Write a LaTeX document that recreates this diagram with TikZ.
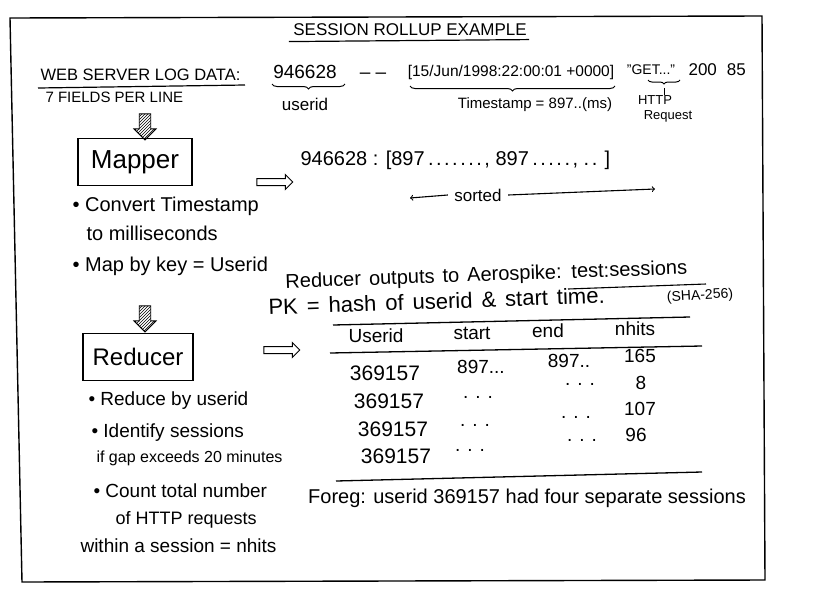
\documentclass[tikz,border=0pt]{standalone}
\usepackage{fontspec}
\setmainfont{Liberation Sans}
\usetikzlibrary{patterns,shapes.arrows,decorations.pathreplacing}
\newcommand\dotsp{.\kern2.5pt}
\begin{document}
\begin{tikzpicture}[x=1pt,y=-1pt, line width=1.1pt,
  lbl/.style={inner sep=0pt},
  box/.style={draw, line width=1.3pt, minimum width=114pt, minimum height=47pt, inner sep=0pt},
  rule/.style={line width=1.3pt},
  brc/.style={decorate, decoration={brace, mirror, amplitude=5pt}, line width=1pt},
  hatchdown/.style={single arrow, draw, line width=0.9pt, shape border rotate=270, pattern=north east lines, minimum height=26pt, minimum width=22pt, single arrow head extend=5pt, inner sep=5pt},
  hollowright/.style={single arrow, draw, line width=1pt, minimum height=36pt, minimum width=15pt, single arrow head extend=4pt, inner sep=3pt}
]
\useasboundingbox (0,0) rectangle (825,595);
% frame
\draw[line width=1.4pt] (10,18) -- (762,16) -- (765,580) -- (22,582) -- cycle;

% title
\node[lbl, font=\fontsize{17}{17}\selectfont] (title) at (410,30) {SESSION ROLLUP EXAMPLE};
\path (title.south west) ++(-4,5) coordinate (tu1);
\path (title.south east) ++(2,3) coordinate (tu2);
\draw[line width=1.2pt] (tu1) -- (tu2);

% log line
\node[lbl, anchor=west, font=\fontsize{16.5}{16.5}\selectfont] (web) at (40,75) {WEB SERVER LOG DATA:};
\coordinate (wu1) at (38,88); \coordinate (wu2) at (245,85);
\draw[line width=1.2pt] (wu1) -- (wu2);
\node[lbl, anchor=west, font=\fontsize{15}{15}\selectfont] (fields) at (45,97) {7 FIELDS PER LINE};

\node[lbl, font=\fontsize{19}{19}\selectfont] (uid) at (305,72) {946628};
\node[lbl, font=\fontsize{19}{19}\selectfont] (dash) at (373,76) {– –};
\node[lbl, font=\fontsize{15.5}{15.5}\selectfont] (ts) at (511,72) {[15/Jun/1998:22:00:01 +0000]};
\node[lbl, font=\fontsize{14}{14}\selectfont] (get) at (651,70) {"GET..."};
\node[lbl, anchor=west, font=\fontsize{17}{17}\selectfont] (rest) at (688,70) {200\hspace{10pt}85};

\coordinate (b1a) at (272,84); \coordinate (b1b) at (345,84);
\draw[brc] (b1a) -- (b1b);
\node[lbl, font=\fontsize{17}{17}\selectfont] (uidlbl) at (305,104) {userid};
\coordinate (b2a) at (410,86); \coordinate (b2b) at (615,86);
\draw[brc] (b2a) -- (b2b);
\node[lbl, font=\fontsize{15}{15}\selectfont] (tslbl) at (535,105) {Timestamp = 897..(ms)};
\coordinate (b3a) at (648,80); \coordinate (b3b) at (680,80);
\draw[brc, decoration={amplitude=4pt}] (b3a) -- (b3b);
\node[lbl, font=\fontsize{13}{13}\selectfont] (http) at (655,100) {HTTP};
\node[lbl, font=\fontsize{13}{13}\selectfont] (req) at (668,116) {Request};
\draw[line width=1pt] (664,88) -- (http.north -| 664,0);

% mapper
\node[hatchdown] (a1) at (145,124) {};
\node[box, font=\fontsize{26}{26}\selectfont] (mapper) at (135,162) {Mapper};
\node[hollowright] (a2) at (273,182) {};
\node[lbl, anchor=west, font=\fontsize{20}{20}\selectfont] (mapout) at (300,160)
  {946628 : [897\,\dotsp\dotsp\dotsp\dotsp\dotsp\dotsp\dotsp, 897\,\dotsp\dotsp\dotsp\dotsp\dotsp, \dotsp. ]};
\node[lbl, font=\fontsize{17}{17}\selectfont] (sorted) at (478,195) {sorted};
\coordinate (sl) at (410,198); \coordinate (sr) at (655,189);
\draw[->] (sorted.west) ++(-6,0) -- (sl);
\draw[->] (sorted.east) ++(6,0) -- (sr);

\node[lbl, anchor=west, font=\fontsize{20}{20}\selectfont] (m1) at (72,206) {• Convert Timestamp};
\node[lbl, anchor=west, font=\fontsize{20}{20}\selectfont] (m2) at (86,233) {to milliseconds};
\node[lbl, anchor=west, font=\fontsize{20}{20}\selectfont] (m3) at (72,266) {• Map by key = Userid};

% reducer output text
\node[lbl, anchor=west, rotate=2, font=\fontsize{20}{20}\selectfont] (ro) at (285,283) {\spaceskip=8pt Reducer outputs to Aerospike: test:sessions};
\coordinate (tsu1) at (568,289); \coordinate (tsu2) at (706,284);
\draw[line width=1.1pt] (tsu1) -- (tsu2);
\node[lbl, anchor=west, rotate=2, font=\fontsize{22}{22}\selectfont] (pk) at (268,307) {\spaceskip=9pt PK = hash of userid \& start time.};
\node[lbl, rotate=3, font=\fontsize{14}{14}\selectfont] (sha) at (700,296) {(SHA-256)};

% reducer
\node[hatchdown] (a3) at (145,316) {};
\node[box, minimum width=110pt, font=\fontsize{24}{24}\selectfont] (reducer) at (138,357) {Reducer};
\node[hollowright] (a4) at (280,350) {};

\node[lbl, anchor=west, font=\fontsize{19}{19}\selectfont] (r1) at (88,401) {• Reduce by userid};
\node[lbl, anchor=west, font=\fontsize{19}{19}\selectfont] (r2) at (91,433) {• Identify sessions};
\node[lbl, anchor=west, font=\fontsize{16}{16}\selectfont] (r3) at (96,458) {if gap exceeds 20 minutes};
\node[lbl, anchor=west, font=\fontsize{19}{19}\selectfont] (r4) at (93,491) {• Count total number};
\node[lbl, anchor=west, font=\fontsize{18}{18}\selectfont] (r5) at (115,520) {of HTTP requests};
\node[lbl, anchor=west, font=\fontsize{19}{19}\selectfont] (r6) at (80,546) {within a session = nhits};

% table
\coordinate (t1a) at (333,325); \coordinate (t1b) at (690,317);
\draw[rule] (t1a) -- (t1b);
\coordinate (t2a) at (330,353); \coordinate (t2b) at (702,346);
\draw[rule] (t2a) -- (t2b);
\coordinate (t3a) at (336,481); \coordinate (t3b) at (702,472);
\draw[rule] (t3a) -- (t3b);

\begin{scope}[every node/.style={lbl, font=\fontsize{19}{19}\selectfont}]
\node (hu) at (376,336) {Userid};
\node (hs) at (472,333) {start};
\node (he) at (548,331) {end};
\node (hn) at (635,329) {nhits};
\end{scope}
\begin{scope}[every node/.style={lbl, font=\fontsize{21}{21}\selectfont}]
\node (u1) at (385,373) {369157};
\node (u2) at (389,401) {369157};
\node (u3) at (393,429) {369157};
\node (u4) at (396,456) {369157};
\end{scope}
\begin{scope}[every node/.style={lbl, font=\fontsize{19}{19}\selectfont}]
\node (s1) at (481,367) {897...};
\node (e1) at (569,361) {897..};
\node (n1) at (640,356) {165};
\node (s2) at (478,397) {. . .};
\node (e2) at (580,384) {. . .};
\node (n2) at (641,383) {8};
\node (s3) at (475,425) {. . .};
\node (e3) at (576,417) {. . .};
\node (n3) at (640,409) {107};
\node (s4) at (470,450) {. . .};
\node (e4) at (582,440) {. . .};
\node (n4) at (636,435) {96};
\end{scope}

\node[lbl, font=\fontsize{20}{20}\selectfont] (foreg) at (527,498) {Foreg: userid 369157 had four separate sessions};
\end{tikzpicture}
\end{document}
